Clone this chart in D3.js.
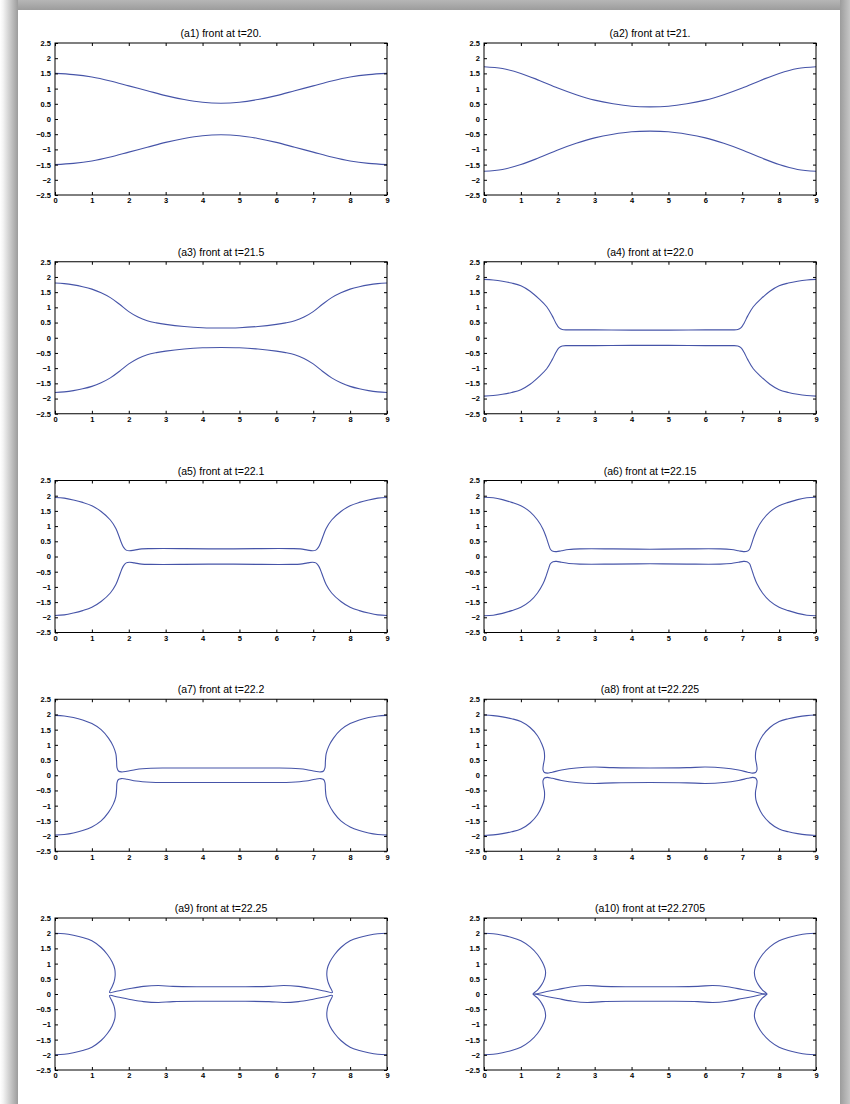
<!DOCTYPE html>
<html>
<head>
<meta charset="utf-8">
<script src="https://cdn.jsdelivr.net/npm/d3@7"></script>
<style>
body { margin: 0; background: #fff; }
#page { position: relative; width: 850px; height: 1104px; overflow: hidden; background: #fff; }
.edge { position: absolute; }
svg { position: absolute; left: 0; top: 0; }
</style>
</head>
<body>
<div id="page">
  <div class="edge" style="left:0;top:0;width:850px;height:10px;background:linear-gradient(#b6b6b6,#9c9c9c)"></div>
  <div class="edge" style="left:0;top:0;width:18px;height:1104px;background:linear-gradient(to right,#fff 0px,#f4f4f4 3px,#9c9c9c 18px)"></div>
  <div class="edge" style="left:840px;top:0;width:10px;height:1104px;background:linear-gradient(to right,#9c9c9c,#c6c6c6)"></div>
</div>
<script>
var titles = ["(a1) front at t=20.", "(a2) front at t=21.", "(a3) front at t=21.5", "(a4) front at t=22.0",
              "(a5) front at t=22.1", "(a6) front at t=22.15", "(a7) front at t=22.2", "(a8) front at t=22.225",
              "(a9) front at t=22.25", "(a10) front at t=22.2705"];
var xTicks = [0, 1, 2, 3, 4, 5, 6, 7, 8, 9];
var yTicks = [2.5, 2, 1.5, 1, 0.5, 0, -0.5, -1, -1.5, -2, -2.5];

// upper front, left half (x 0 -> 4.5);
// the fronts are symmetric about x=4.5 and about y=0
var a1 = [[0,1.5],[0.5,1.46],[1,1.38],[1.5,1.25],[2,1.09],[2.5,0.93],[3,0.77],[3.5,0.64],[4,0.55],[4.5,0.52]];
var a2 = [[0,1.72],[0.5,1.66],[1,1.5],[1.5,1.27],[2,1.02],[2.5,0.8],[3,0.62],[3.5,0.5],[4,0.42],[4.5,0.4]];
var a3 = [[0,1.8],[0.25,1.78],[0.5,1.74],[0.75,1.68],[1,1.6],[1.25,1.48],[1.5,1.32],[1.75,1.1],[2,0.86],[2.25,0.68],
          [2.5,0.56],[2.75,0.49],[3,0.44],[3.5,0.37],[4,0.33],[4.5,0.32]];
var a4 = [[0,1.92],[0.25,1.9],[0.5,1.86],[0.75,1.8],[1,1.71],[1.25,1.53],[1.5,1.27],[1.7,1.02],[1.85,0.72],[1.95,0.48],
          [2.03,0.33],[2.12,0.27],[2.3,0.26],[3,0.26],[4,0.25],[4.5,0.25]];
var a5 = [[0,1.94],[0.25,1.92],[0.5,1.86],[0.75,1.78],[1,1.67],[1.25,1.48],[1.5,1.2],[1.65,0.92],[1.74,0.65],[1.8,0.45],
          [1.86,0.3],[1.93,0.21],[2.02,0.19],[2.15,0.21],[2.35,0.25],[2.6,0.26],[3.5,0.26],[4.5,0.25]];
var a6 = [[0,1.95],[0.25,1.93],[0.5,1.87],[0.75,1.78],[1,1.67],[1.25,1.47],[1.45,1.2],[1.6,0.9],[1.69,0.62],[1.75,0.4],
          [1.8,0.24],[1.87,0.17],[1.97,0.16],[2.1,0.19],[2.3,0.23],[2.6,0.25],[3.5,0.25],[4.5,0.24]];
var a7 = [[0,1.97],[0.25,1.95],[0.5,1.9],[0.75,1.82],[1,1.7],[1.25,1.5],[1.45,1.22],[1.58,0.95],[1.65,0.7],[1.67,0.45],
          [1.68,0.25],[1.72,0.14],[1.8,0.11],[1.95,0.13],[2.2,0.19],[2.6,0.23],[3,0.24],[4.5,0.24]];
var a8 = [[0,1.98],[0.25,1.96],[0.5,1.92],[0.75,1.86],[1,1.77],[1.25,1.57],[1.45,1.3],[1.57,1.02],[1.63,0.8],[1.64,0.55],
          [1.61,0.35],[1.6,0.18],[1.64,0.09],[1.72,0.07],[1.85,0.1],[2.1,0.17],[2.5,0.24],[3,0.27],[3.5,0.25],[4.5,0.24]];
var a9 = [[0,2.0],[0.25,1.98],[0.5,1.93],[0.75,1.86],[1,1.75],[1.25,1.53],[1.42,1.3],[1.55,1.05],[1.62,0.82],[1.63,0.6],
          [1.6,0.4],[1.54,0.22],[1.48,0.05],[1.7,0.1],[2.0,0.17],[2.4,0.25],[2.8,0.28],[3.2,0.25],[4,0.24],[4.5,0.24]];
var a10 = [[0,2.0],[0.25,1.98],[0.5,1.93],[0.75,1.86],[1,1.75],[1.25,1.55],[1.45,1.3],[1.58,1.05],[1.65,0.85],[1.67,0.7],
           [1.64,0.5],[1.56,0.3],[1.45,0.13],[1.33,0.0],[1.7,0.08],[2.0,0.15],[2.4,0.24],[2.8,0.28],[3.2,0.25],[4,0.24],[4.5,0.24]];
var fronts = [a1, a2, a3, a4, a5, a6, a7, a8, a9, a10];

var colLeft = [55, 484],
    rowTop = 43,
    rowStep = 218.75,
    w = 332,
    h = 152;

var svg = d3.select("#page").append("svg").attr("width", 850).attr("height", 1104);

var x = d3.scaleLinear().domain([0, 9]).range([0, w]);
var y = d3.scaleLinear().domain([-2.5, 2.5]).range([h, 0]);

var fmt = function(d){ return d < 0 ? "\u2212" + Math.abs(d) : String(d); };

var line = d3.line()
    .x(function(d){ return x(d[0]); })
    .y(function(d){ return y(d[1]); })
    .curve(d3.curveCatmullRom.alpha(0.5));

function fullFront(half) {
  var right = half.slice(0, half.length - 1).reverse().map(function(p){ return [9 - p[0], p[1]]; });
  return half.concat(right);
}

fronts.forEach(function(half, i) {
  var g = svg.append("g")
      .attr("transform", "translate(" + colLeft[i % 2] + "," + (rowTop + Math.floor(i / 2) * rowStep) + ")");

  var upper = fullFront(half);
  var lower = upper.map(function(p){ return [p[0], -p[1]]; });

  [upper, lower].forEach(function(c) {
    g.append("path").attr("d", line(c))
      .attr("fill", "none").attr("stroke", "#4654a8").attr("stroke-width", 1.1);
  });

  var axes = [
    d3.axisLeft(y).tickValues(yTicks).tickFormat(fmt),
    d3.axisRight(y).tickValues(yTicks).tickFormat(""),
    d3.axisTop(x).tickValues(xTicks).tickFormat(""),
    d3.axisBottom(x).tickValues(xTicks).tickFormat(fmt)
  ];
  var shifts = ["0,0", w + ",0", "0,0", "0," + h];
  axes.forEach(function(ax, k) {
    var a = g.append("g").attr("transform", "translate(" + shifts[k] + ")")
      .call(ax.tickSize(-3).tickSizeOuter(0).tickPadding(k == 0 ? 4 : 3));
    a.select(".domain").remove();
    a.selectAll("line").attr("stroke", "#000");
    a.selectAll("text").attr("fill", "#000")
      .style("font-family", "'Liberation Sans', Arial, sans-serif")
      .style("font-size", "7.5px").style("font-weight", "bold");
  });

  g.append("rect").attr("width", w).attr("height", h)
    .attr("fill", "none").attr("stroke", "#000").attr("stroke-width", 1);

  g.append("text").attr("x", w / 2).attr("y", -6)
    .attr("text-anchor", "middle")
    .style("font-family", "'Liberation Sans', Arial, sans-serif")
    .style("font-size", "10.5px")
    .text(titles[i]);
});
</script>
</body>
</html>
